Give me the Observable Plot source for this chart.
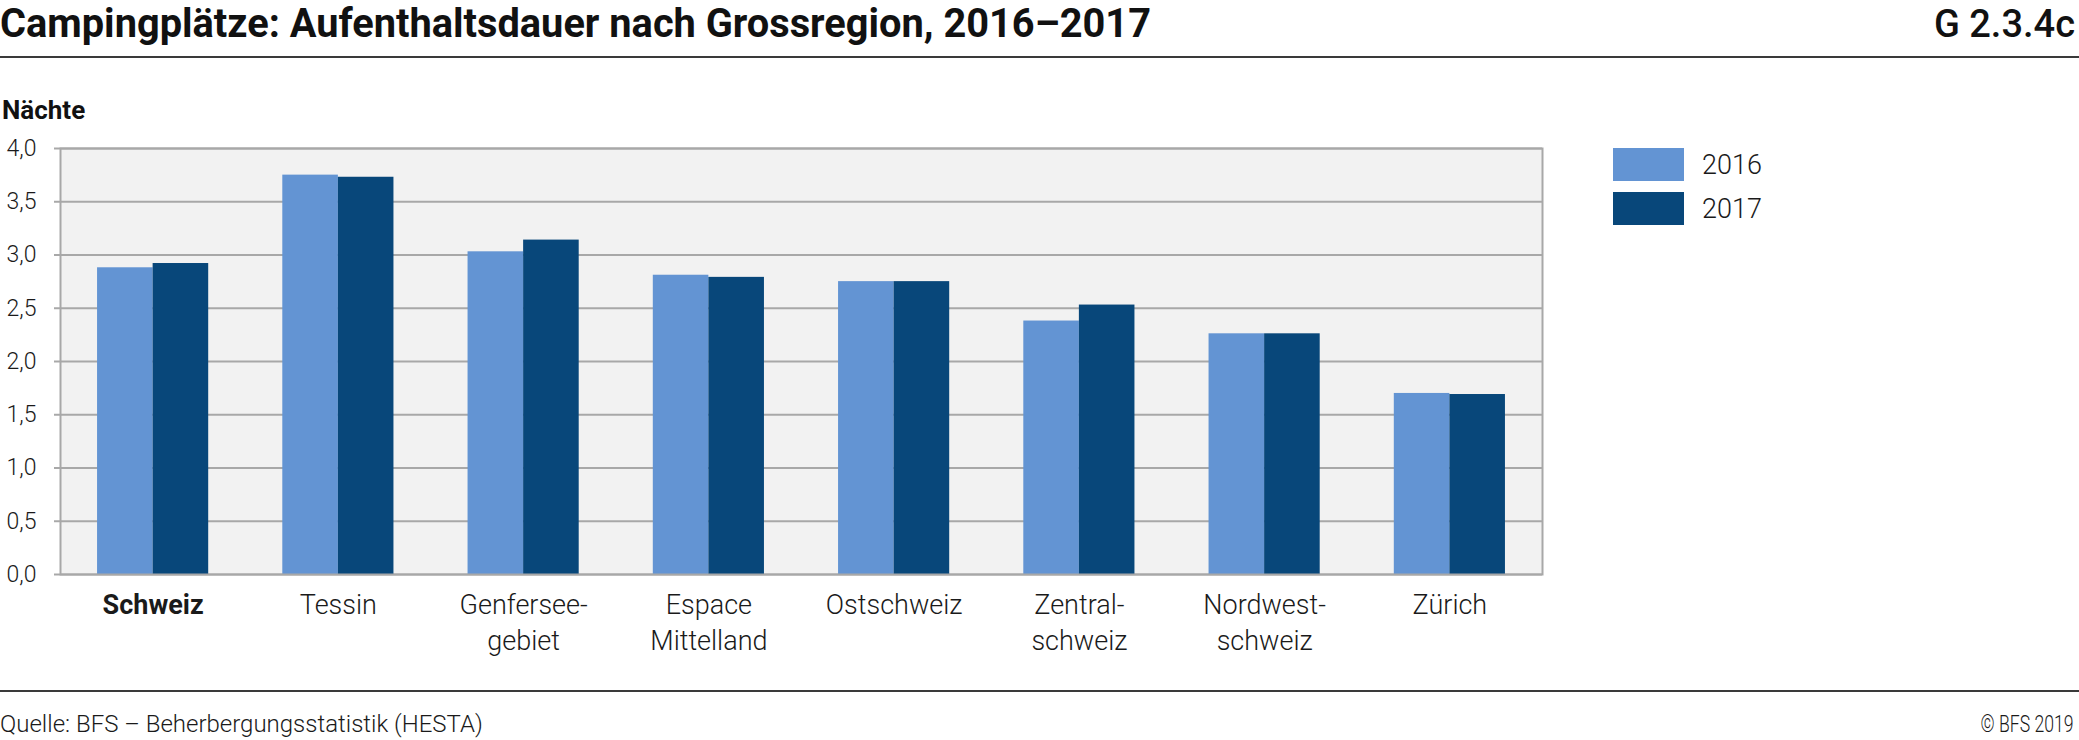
<!DOCTYPE html>
<html>
<head>
<meta charset="utf-8">
<script src="https://cdn.jsdelivr.net/npm/d3@7"></script>
<script src="https://cdn.jsdelivr.net/npm/@observablehq/plot@0.6"></script>
<style>
  html, body { margin: 0; padding: 0; background: #fff; }
  #root { position: relative; width: 2079px; height: 740px; font-family: Roboto, "Noto Sans", sans-serif; color: #1a1a1a; overflow: hidden; }
  .abs { position: absolute; white-space: nowrap; line-height: 1; }
  #title { left: 0; top: 4px; font-size: 40px; font-weight: 700; transform-origin: 0 0; color: #111; }
  #code { right: 4px; top: 5px; font-size: 38px; font-weight: 500; color: #111; }
  .rule { position: absolute; left: 0; width: 2079px; height: 2px; background: #3a3a3a; }
  #unit { left: 2px; top: 97px; font-size: 26px; font-weight: 700; color: #111; }
  #chart { position: absolute; left: 0; top: 128px; }
  .sw { position: absolute; left: 1613px; width: 71px; height: 33px; }
  .lg { position: absolute; left: 1702px; font-size: 27px; font-weight: 300; line-height: 1; }
  #src { left: 0; top: 712px; font-size: 24px; font-weight: 300; }
  #copy { right: 5px; top: 712px; font-size: 24px; font-weight: 300; transform-origin: 100% 0; }
</style>
</head>
<body>
<div id="root">
  <div class="abs" id="title">Campingplätze: Aufenthaltsdauer nach Grossregion, 2016–2017</div>
  <div class="abs" id="code">G 2.3.4c</div>
  <div class="rule" style="top:56px"></div>
  <div class="abs" id="unit">Nächte</div>
  <div id="chart"></div>
  <div id="legend"></div>
  <div class="rule" style="top:690px"></div>
  <div class="abs" id="src">Quelle: BFS – Beherbergungsstatistik (HESTA)</div>
  <div class="abs" id="copy">© BFS 2019</div>
</div>
<script>
// ---- data ----
const regions = ["Schweiz", "Tessin", "Genfersee-\ngebiet", "Espace\nMittelland", "Ostschweiz", "Zentral-\nschweiz", "Nordwest-\nschweiz", "Zürich"];
const years = ["2016", "2017"];
const values2016 = [2.88, 3.75, 3.03, 2.81, 2.75, 2.38, 2.26, 1.70];
const values2017 = [2.92, 3.73, 3.14, 2.79, 2.75, 2.53, 2.26, 1.69];
const yTicks = [0, 0.5, 1, 1.5, 2, 2.5, 3, 3.5, 4];
const colors = ["#6394d3", "#08477a"];

const data = [];
regions.forEach((r, i) => {
  data.push({region: r, year: years[0], value: values2016[i]});
  data.push({region: r, year: years[1], value: values2017[i]});
});

// ---- layout ----
const W = 2079, H = 546;
const mTop = 20, mBottom = 100, mLeft = 60, mRight = 537;
const pInner = 0.4, pOuter = 0.2;
const plotW = W - mLeft - mRight;
const step = plotW / (regions.length - pInner + 2 * pOuter);
const half = step * (1 - pInner) / 2;

const fmt = d => d.toFixed(1).replace(".", ",");

const chart = Plot.plot({
  width: W, height: H,
  marginTop: mTop, marginBottom: mBottom, marginLeft: mLeft, marginRight: mRight,
  style: {fontFamily: "Roboto, sans-serif", background: "transparent", color: "#1a1a1a"},
  x: {domain: regions, paddingInner: pInner, paddingOuter: pOuter, round: false, label: null},
  y: {domain: [0, 4], label: null},
  marks: [
    Plot.frame({fill: "#f2f2f2", stroke: null}),
    Plot.gridY(yTicks, {stroke: "#a8a8a8", strokeOpacity: 1, strokeWidth: 2}),
    Plot.barY(data.filter(d => d.year === years[0]), {x: "region", y: "value", fill: colors[0], insetRight: half}),
    Plot.barY(data.filter(d => d.year === years[1]), {x: "region", y: "value", fill: colors[1], insetLeft: half}),
    Plot.frame({stroke: "#a8a8a8", strokeWidth: 2}),
    Plot.axisY(yTicks, {tickSize: 6, tickPadding: 18, tickFormat: fmt, fontSize: 23, fontWeight: 300, stroke: "#a8a8a8", strokeWidth: 2, fill: "#1a1a1a", label: null}),
    Plot.axisX({tickSize: 0, tickPadding: 13, fontSize: 27, fontWeight: 300, lineHeight: 1.36, fill: "#1a1a1a", label: null})
  ]
});
document.getElementById("chart").appendChild(chart);

d3.select(chart).selectAll("text")
  .filter(function () { return this.textContent === "Schweiz"; })
  .attr("font-weight", 700);

// ---- legend ----
const legend = document.getElementById("legend");
years.forEach((y, i) => {
  const top = 148 + i * 44;
  const sw = document.createElement("div");
  sw.className = "sw";
  sw.style.top = top + "px";
  sw.style.background = colors[i];
  legend.appendChild(sw);
  const t = document.createElement("div");
  t.className = "lg";
  t.style.top = (top + 4) + "px";
  t.textContent = y;
  legend.appendChild(t);
});

// condensed texts
function fitWidth(id, target) {
  const el = document.getElementById(id);
  const w = el.getBoundingClientRect().width;
  el.style.transform = `scaleX(${target / w})`;
}
fitWidth("title", 1151);
fitWidth("copy", 93);
</script>
</body>
</html>
